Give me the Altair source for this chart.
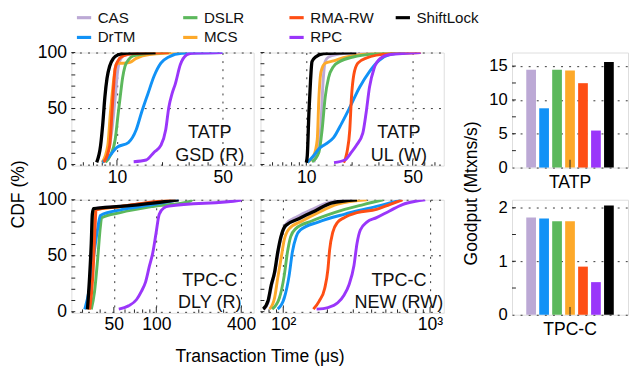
import altair as alt
import pandas as pd

FONT = "Liberation Sans"

SYSTEMS = ["CAS", "DrTM", "DSLR", "MCS", "RMA-RW", "RPC", "ShiftLock"]
COLORS = ["#BCA9D5", "#1192F6", "#5CB85C", "#FDA92A", "#FE4E14", "#9A36FA", "#000000"]
LEGEND_ORDER = ["CAS", "DSLR", "RMA-RW", "ShiftLock", "DrTM", "MCS", "RPC"]
LEGEND_COLORS = ["#BCA9D5", "#5CB85C", "#FE4E14", "#000000", "#1192F6", "#FDA92A", "#9A36FA"]
DRAW_ORDER = ["CAS", "MCS", "DSLR", "DrTM", "RMA-RW", "RPC", "ShiftLock"]

# CDF curves: (transaction time in us, CDF %)
GSD = {
    "CAS": [(8.4, 2), (9.27, 31), (9.74, 60), (10.1, 83), (10.4, 92), (11.3, 97.7), (17, 100)],
    "DrTM": [(8.0, 2), (8.6, 5), (10.0, 15.3), (11.9, 19.6), (13.4, 31), (14.5, 46), (16.0, 63),
             (17.6, 79), (19.5, 90.5), (22.0, 96), (26.8, 99.4), (49.8, 100)],
    "DSLR": [(8.41, 2), (9.05, 8), (9.74, 22.5), (10.2, 46), (10.5, 60), (10.9, 77.5), (11.3, 87.6),
             (11.9, 93.4), (12.8, 97), (15.6, 99), (22, 100)],
    "MCS": [(8.0, 2), (8.7, 17), (9.05, 46), (9.4, 69), (9.74, 86), (10.0, 90.5), (11.0, 90.5),
            (12.2, 91.3), (13.4, 94.8), (16.4, 98.3), (28.2, 100)],
    "RMA-RW": [(8.19, 2), (8.96, 17), (9.27, 46), (9.5, 69), (9.74, 86), (10.2, 93), (11.0, 97),
               (12.8, 99), (22, 100)],
    "RPC": [(12.9, 2.5), (15.6, 4), (17.6, 11), (19.5, 17), (21.0, 31), (22.0, 51), (23.1, 63),
            (24.3, 72), (26.2, 89), (28.9, 98), (31.1, 99.4), (49.8, 100)],
    "ShiftLock": [(7.35, 2), (7.8, 17), (8.07, 37), (8.32, 60), (8.6, 77), (8.96, 88), (9.5, 95),
                  (10.2, 98), (11.6, 99.4), (18, 100)],
}

UL = {
    "CAS": [(11.2, 2), (12.4, 31), (12.9, 75), (13.3, 92), (14.0, 96), (17.5, 99), (27.3, 100)],
    "DrTM": [(10.15, 1.7), (11.2, 8), (12.1, 14), (13.3, 18), (15.1, 24), (17.1, 37), (19.3, 51),
             (22.4, 69), (26.0, 83), (30.1, 93), (34.9, 98), (44.7, 99.7)],
    "DSLR": [(10.9, 2.3), (12.1, 11), (12.7, 31), (13.3, 60), (14.0, 77.5), (15.1, 87.6), (16.6, 92),
             (20.3, 96), (28.7, 99), (38.5, 100)],
    "MCS": [(10.25, 2), (11.2, 8), (11.8, 22.5), (12.1, 60), (12.5, 83), (13.3, 90.5), (15.1, 92.5),
            (17.5, 95.4), (21.3, 97.7), (31.6, 99.4), (56.4, 100)],
    "RMA-RW": [(17.6, 1.7), (18.5, 11), (19.3, 31), (19.8, 60), (20.5, 80), (21.8, 90.5), (24.7, 95),
               (34.9, 99), (56.4, 100)],
    "RPC": [(15.2, 1.7), (17.9, 4), (19.8, 11), (21.3, 17), (23.5, 28), (24.7, 46), (26.0, 69),
            (27.9, 86), (30.8, 95), (34.9, 98), (56.4, 100)],
    "ShiftLock": [(10.0, 1.7), (10.15, 8), (10.4, 46), (10.66, 75), (10.9, 92), (11.5, 96), (13.0, 99),
                  (21.3, 100)],
}

DLY = {
    "CAS": [(33.0, 2), (34.2, 32), (35.1, 61), (35.7, 87), (36.4, 92), (55.6, 94.3), (94.4, 97.5), (140, 100)],
    "DrTM": [(31.1, 2), (33.5, 20), (36.0, 50), (38.5, 75), (40.1, 86), (55.6, 91), (94.4, 95.7), (143.9, 100)],
    "DSLR": [(34.6, 2), (36.5, 18), (38.4, 47), (40.1, 75.6), (41.0, 84), (55.6, 88.5), (94.4, 94),
             (173, 98.6), (180, 100)],
    "MCS": [(33.2, 2), (35.0, 32), (36.3, 75), (37.0, 91), (55.6, 93.8), (94.4, 97.7), (138, 100)],
    "RMA-RW": [(33.7, 2), (35.5, 32), (36.8, 75), (37.4, 91), (55.6, 94), (94.4, 98), (136.6, 100)],
    "RPC": [(54.2, 2.3), (63.5, 5.2), (72.5, 10.9), (78.4, 18.1), (84.0, 26.7), (89.5, 41.1), (94.4, 52.6),
            (99.5, 69.8), (104.9, 87.1), (113.5, 92.8), (122.9, 94.3), (392.7, 99.5), (400, 100)],
    "ShiftLock": [(32.5, 2), (33.7, 32), (34.6, 61), (35.2, 87), (35.9, 92), (55.6, 94), (94.4, 97), (143.9, 100)],
}

NEW = {
    "CAS": [(74, 2.3), (79.5, 9.5), (83.5, 24), (87.8, 35), (92.3, 53), (97, 67), (104, 78), (125, 85),
            (158, 91.5), (205, 97.5), (300, 100)],
    "DrTM": [(91.7, 2.3), (101.5, 12), (109.6, 32), (115.3, 53), (122.5, 67), (130.9, 73), (173, 80),
             (260, 87), (432, 94), (617, 99.4), (640, 100)],
    "DSLR": [(84.1, 2.3), (94, 12), (101.5, 32), (106.8, 53), (112.4, 67), (121.3, 74), (156.4, 81),
             (223, 88.5), (352, 95.7), (479, 100)],
    "MCS": [(80.8, 2.3), (87.2, 12), (91.7, 30), (96.5, 47), (101.5, 64), (109.6, 74), (134.3, 81),
            (173, 88.5), (235, 96), (371, 100)],
    "RMA-RW": [(160.4, 2.3), (175.8, 9.5), (191.7, 21), (201.6, 38), (206.9, 55), (217.6, 71), (235, 80),
               (260, 84), (318, 88.5), (432, 91.4), (530, 95.7), (649, 100)],
    "RPC": [(168.8, 2.3), (201.6, 3.7), (235, 8), (260, 15), (280.6, 24), (303, 41), (318, 61), (335, 73),
            (371, 80), (432, 84), (530, 90), (649, 95.7), (795, 98.6), (927, 100)],
    "ShiftLock": [(73, 2.3), (78.7, 9.5), (82.9, 24), (87.2, 35), (91.7, 53), (96.5, 67), (104, 77),
                  (127.6, 83), (164.5, 90), (212, 97), (318, 100)],
}

TATP_GOODPUT = [14.47, 8.76, 14.47, 14.33, 12.47, 5.47, 15.61]
TPCC_GOODPUT = [1.82, 1.80, 1.75, 1.75, 0.90, 0.61, 2.04]

CDF_TICKS = [0, 10, 20, 30, 40, 50, 60, 70, 80, 90, 100]

W1, W2, H = 187, 188, 116
BW, BH = 119, 118
GAP = 56

color_scale = alt.Scale(domain=LEGEND_ORDER, range=LEGEND_COLORS)
legend = alt.Legend(
    orient="none", legendX=4, legendY=-45, columns=4, gridAlign="all", direction="horizontal",
    symbolType="stroke", symbolSize=214, symbolStrokeWidth=3.2, labelFontSize=15.5,
    labelFont=FONT, labelOffset=5, columnPadding=15, rowPadding=2.5, title=None,
    labelColor="#111",
)
GRID_DASH = [2, 6.3]


def cdf_panel(curves, domain, major, minor, label_expr, annot, width, show_y, ytitle, xtitle):
    rows = [{"system": s, "x": x, "cdf": y} for s in SYSTEMS for (x, y) in curves[s]]
    df = pd.DataFrame(rows)
    xscale = alt.Scale(type="log", domain=domain, nice=False)
    yscale = alt.Scale(domain=[-1, 100], nice=False)
    xaxis_kw = dict(values=major, grid=True, gridDash=GRID_DASH, gridColor="#333", ticks=False,
                    domain=False, labelFontSize=18, labelPadding=3, labelFlush=False,
                    labelOverlap=False, labelExpr=label_expr, labelFont=FONT)
    if xtitle:
        xaxis_kw.update(title=xtitle, titleX=193, titleFontSize=18, titlePadding=15,
                        titleFontWeight="normal", titleFont=FONT)
    else:
        xaxis_kw.update(title=None)
    xaxis = alt.Axis(**xaxis_kw)
    yaxis_kw = dict(values=[0, 50, 100], grid=True, gridDash=GRID_DASH, gridColor="#333", ticks=False,
                    domain=False, labelFontSize=18, labelPadding=5, labels=show_y, labelFont=FONT)
    if ytitle:
        yaxis_kw.update(title=ytitle, titleY=145, titleFontSize=18, titlePadding=10,
                        titleFontWeight="normal", titleFont=FONT)
    else:
        yaxis_kw.update(title=None)
    yaxis = alt.Axis(**yaxis_kw)

    X = alt.X("x:Q", scale=xscale, axis=xaxis)
    Y = alt.Y("cdf:Q", scale=yscale, axis=yaxis)

    layers = []
    for s in DRAW_ORDER:
        layers.append(
            alt.Chart(df).transform_filter(alt.datum.system == s)
            .mark_line(interpolate="monotone", strokeWidth=3.4 if s == "ShiftLock" else 3, clip=True)
            .encode(x=X, y=Y, color=alt.Color("system:N", scale=color_scale, legend=legend))
        )
    yt = alt.Chart(pd.DataFrame({"t": CDF_TICKS})).mark_rule(color="#222", strokeWidth=1).encode(
        y=alt.Y("t:Q", scale=yscale, axis=yaxis), x=alt.value(0), x2=alt.value(4))
    xmaj = alt.Chart(pd.DataFrame({"t": major})).mark_rule(color="#222", strokeWidth=1).encode(
        x=alt.X("t:Q", scale=xscale, axis=xaxis), y=alt.value(H), y2=alt.value(H - 6))
    xmin = alt.Chart(pd.DataFrame({"t": minor})).mark_rule(color="#222", strokeWidth=1).encode(
        x=alt.X("t:Q", scale=xscale, axis=xaxis), y=alt.value(H), y2=alt.value(H - 3.5))
    txt = alt.Chart(pd.DataFrame({"t": [annot]})).mark_text(
        lineBreak="\n", fontSize=18.5, font=FONT, align="center", baseline="middle", lineHeight=23,
        color="#111").encode(text="t:N", x=alt.value(142), y=alt.value(82))
    return alt.layer(yt, xmaj, xmin, *layers, txt).properties(width=width, height=H)


def bar_panel(values, bench, ydom, grid_vals, tick_vals, ytitle):
    df = pd.DataFrame({"system": SYSTEMS, "value": values, "bench": [bench] * len(SYSTEMS)})
    xscale = alt.Scale(paddingInner=0, paddingOuter=0.14)
    xaxis = alt.Axis(title=None, labelAngle=0, ticks=False, domain=False, labelFontSize=18,
                     labelPadding=6, labelFont=FONT)
    yscale = alt.Scale(domain=ydom, nice=False)
    yaxis_kw = dict(values=grid_vals, grid=True, gridDash=GRID_DASH, gridColor="#333", ticks=False,
                    domain=False, labelFontSize=17, labelPadding=5, labelFont=FONT)
    if ytitle:
        yaxis_kw.update(title=ytitle, titleY=144, titleFontSize=18, titlePadding=8,
                        titleFontWeight="normal", titleFont=FONT)
    else:
        yaxis_kw.update(title=None)
    yaxis = alt.Axis(**yaxis_kw)
    bars = alt.Chart(df).mark_bar().encode(
        x=alt.X("bench:N", scale=xscale, axis=xaxis),
        xOffset=alt.XOffset("system:N", scale=alt.Scale(domain=SYSTEMS, paddingInner=0.25, paddingOuter=0.12)),
        y=alt.Y("value:Q", scale=yscale, axis=yaxis),
        color=alt.Color("system:N", scale=color_scale, legend=legend),
    )
    yt = alt.Chart(pd.DataFrame({"t": tick_vals})).mark_rule(color="#222", strokeWidth=1).encode(
        y=alt.Y("t:Q", scale=yscale, axis=yaxis), x=alt.value(0), x2=alt.value(4))
    ct = alt.Chart(df.head(1)).mark_rule(color="#222", strokeWidth=1).encode(
        x=alt.X("bench:N", scale=xscale, axis=xaxis, bandPosition=0.5), y=alt.value(BH), y2=alt.value(BH - 8))
    return alt.layer(yt, bars, ct).properties(width=BW, height=BH)


def spacer():
    return alt.Chart(pd.DataFrame({"a": [0]})).mark_point(opacity=0).encode(
        x=alt.X("a:Q", axis=None), y=alt.Y("a:Q", axis=None)
    ).properties(width=GAP, height=H, view=alt.ViewBackground(stroke="transparent", strokeWidth=0))


p1 = cdf_panel(GSD, [5, 80], [10, 50], [6, 7, 8, 9, 20, 30, 40, 60, 70], "datum.label",
               "TATP\nGSD (R)", W1, True, "CDF (%)", None)
p2 = cdf_panel(UL, [5, 80], [10, 50], [6, 7, 8, 9, 20, 30, 40, 60, 70], "datum.label",
               "TATP\nUL (W)", W2, False, None, None)
p3 = cdf_panel(DLY, [25, 490], [50, 100, 400], [30, 40, 60, 70, 80, 90, 200, 300], "datum.label",
               "TPC-C\nDLY (R)", W1, True, None, "Transaction Time (μs)")
p4 = cdf_panel(NEW, [70, 1240], [100, 1000], [80, 90, 200, 300, 400, 500, 600, 700, 800, 900],
               "datum.value < 500 ? '10²' : '10³'", "TPC-C\nNEW (RW)", W2, False, None, None)

b1 = bar_panel(TATP_GOODPUT, "TATP", [0, 17], [0, 5, 10, 15], [2.5, 5, 7.5, 10, 12.5, 15], "Goodput (Mtxns/s)")
b2 = bar_panel(TPCC_GOODPUT, "TPC-C", [0, 2.15], [0, 1, 2], [0.5, 1, 1.5, 2], None)

chart = (
    alt.concat(p1, p2, spacer(), b1, p3, p4, spacer(), b2, columns=4,
               spacing={"row": 33, "column": 7}, bounds="flush",
               padding={"left": 1, "top": -4, "right": 0, "bottom": 0})
    .resolve_scale(color="shared")
    .configure_view(stroke="#222", strokeWidth=1.3)
    .configure_axis(labelFont=FONT, titleFont=FONT, labelColor="#111", titleColor="#111")
    .configure_text(font=FONT)
    .configure(background="white", font=FONT)
)

chart.save("out.html", embed_options={"renderer": "svg", "actions": False})
